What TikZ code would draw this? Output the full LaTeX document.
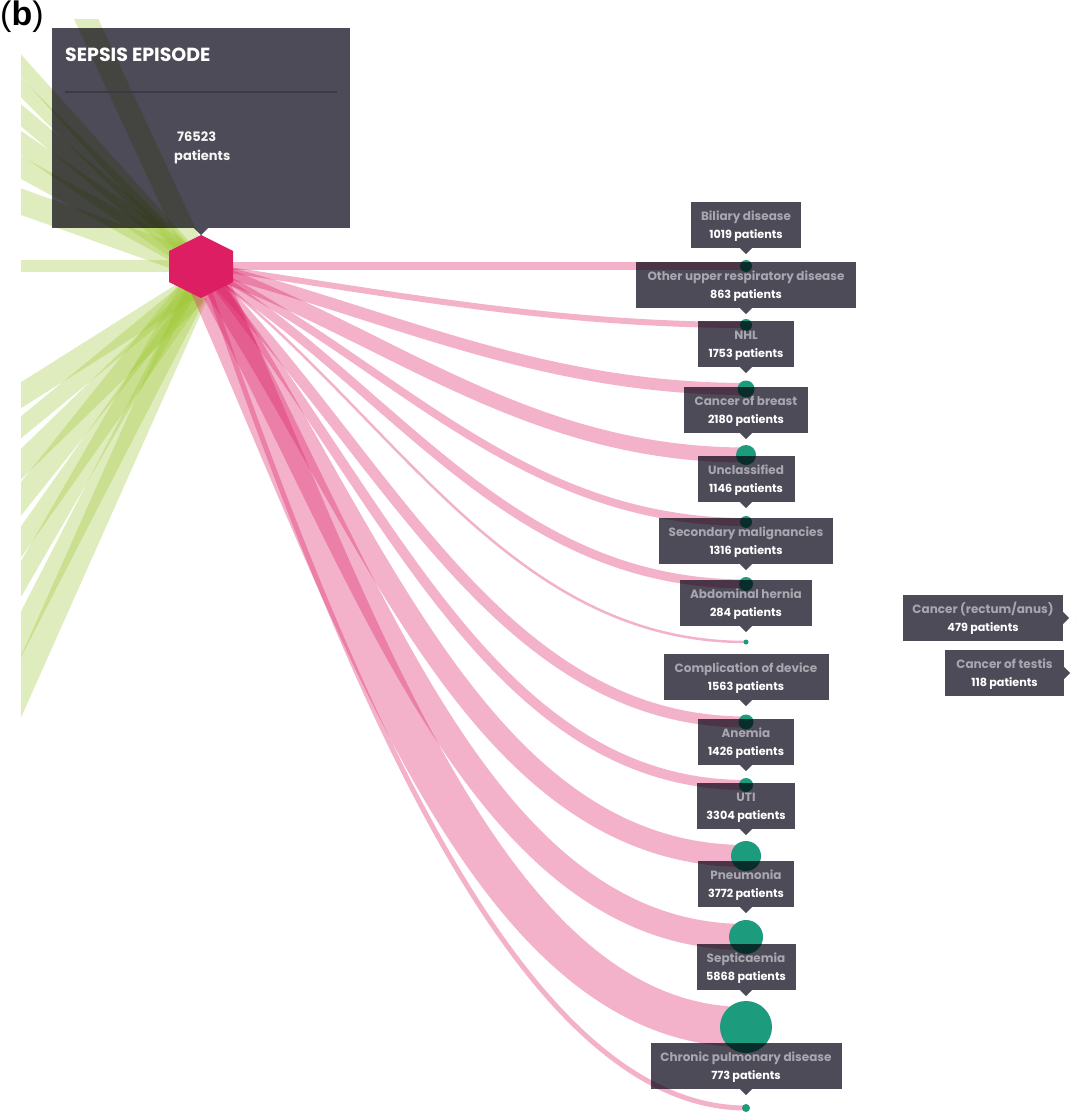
\documentclass[tikz,border=0pt]{standalone}
\usepackage{fontspec}
\setmainfont{Poppins}
\newfontfamily\arialf{Liberation Sans}
\usetikzlibrary{calc}
\definecolor{boxc}{RGB}{78,75,88}
\definecolor{linec}{RGB}{60,57,72}
\definecolor{namec}{RGB}{168,166,175}
\definecolor{pinkc}{RGB}{220,31,100}
\definecolor{greenc}{RGB}{160,200,55}
\definecolor{tealc}{RGB}{28,155,125}
\definecolor{hexc}{RGB}{221,30,98}

\newcommand{\lbox}[6]{%
  \begin{scope}[blend mode=multiply]
    \node[boxs, minimum width=#4] (b#1) at (#2,#3+23) {};
    \fill[boxc] ($(b#1.south)+(-6,0)$) -- ($(b#1.south)+(6,0)$) -- ($(b#1.south)+(0,6)$) -- cycle;
  \end{scope}
  \node[nmtext, anchor=base] (n#1) at ($(b#1.north)+(0,18.5)$) {#5};
  \node[cttext, anchor=base] (p#1) at ($(b#1.north)+(0,37)$) {#6};
}
\newcommand{\rbox}[6]{%
  \begin{scope}[blend mode=multiply]
    \node[boxs, minimum width=#4] (b#1) at (#2,#3+23) {};
    \fill[boxc] ($(b#1.east)+(0,-6)$) -- ($(b#1.east)+(6,0)$) -- ($(b#1.east)+(0,6)$) -- cycle;
  \end{scope}
  \node[nmtext, anchor=base] (n#1) at ($(b#1.north)+(0,18.5)$) {#5};
  \node[cttext, anchor=base] (p#1) at ($(b#1.north)+(0,37)$) {#6};
}
\newcommand{\pb}[5]{\draw[pband=#2] (hex) .. controls +(#3:#4) and +(-#5,0) .. (#1);}

\begin{document}
\begin{tikzpicture}[x=1pt,y=-1pt,
  gband/.style={draw=greenc, opacity=0.33, line width=#1},
  pband/.style={draw=pinkc, opacity=0.34, line width=#1},
  dot/.style={circle, fill=tealc, inner sep=0pt, minimum size=#1},
  boxs/.style={rectangle, fill=boxc, inner sep=0pt, minimum height=46},
  nmtext/.style={font=\fontsize{12}{14}\selectfont\bfseries, text=namec, inner sep=0pt},
  cttext/.style={font=\fontsize{11.2}{13}\selectfont\bfseries, text=white, inner sep=0pt},
]
\useasboundingbox (0,0) rectangle (1076,1113);
\fill[white] (0,0) rectangle (1076,1113);

\coordinate (hex) at (201,266);
\coordinate (gs1) at (188,290);
\coordinate (gs2) at (196,294);

% green bands (left side, clipped)
\begin{scope}
\clip (21,20) rectangle (1076,1113);
\coordinate (gu1) at (68,-20);
\coordinate (gu2) at (-20,20);
\coordinate (gu3) at (-20,47);
\coordinate (gu4) at (-20,81);
\coordinate (gu5) at (-20,115);
\coordinate (gu6) at (-20,145);
\coordinate (gu7) at (-20,187);
\coordinate (gu8) at (-20,266);
\draw[gband=22] (hex) -- (gu1);
\draw[gband=15] (hex) -- (gu2);
\draw[gband=14] (hex) -- (gu3);
\draw[gband=17] (hex) -- (gu4);
\draw[gband=20] (hex) -- (gu5);
\draw[gband=20] (hex) -- (gu6);
\draw[gband=25] (hex) -- (gu7);
\draw[gband=12] (hex) -- (gu8);
\coordinate (gl1) at (-20,421);
\coordinate (gl2) at (-20,461);
\coordinate (gl3) at (-20,504);
\coordinate (gl4) at (-20,550);
\coordinate (gl5) at (-20,600);
\coordinate (gl6) at (-20,650);
\coordinate (gl7) at (-20,714);
\coordinate (gl8) at (-20,779);
\draw[gband=22] (gs1) -- (gl1);
\draw[gband=17] (gs1) -- (gl2);
\draw[gband=22] (gs2) -- (gl3);
\draw[gband=21] (gs1) -- (gl4);
\draw[gband=18] (gs2) -- (gl5);
\draw[gband=18] (gs1) -- (gl6);
\draw[gband=21] (gs2) -- (gl7);
\draw[gband=25] (gs2) -- (gl8);
\end{scope}

% end points of pink bands
\coordinate (e1) at (746,266);
\coordinate (e2) at (746,325);
\coordinate (e3) at (746,389);
\coordinate (e4) at (746,455);
\coordinate (e5) at (746,522);
\coordinate (e6) at (746,584);
\coordinate (e7) at (746,642);
\coordinate (e8) at (746,722);
\coordinate (e9) at (746,785);
\coordinate (e10) at (746,856);
\coordinate (e11) at (746,937);
\coordinate (e12) at (746,1027);
\coordinate (e13) at (746,1108);

% pink bands
\draw[pband=8] (hex) -- (e1);
\pb{e2}{6}{8}{180}{200}
\pb{e3}{12}{14}{190}{210}
\pb{e4}{15}{20}{200}{220}
\pb{e5}{8}{26}{210}{230}
\pb{e6}{9}{32}{230}{240}
\pb{e7}{2.5}{37}{240}{240}
\pb{e8}{11}{45}{260}{250}
\pb{e9}{10}{50}{280}{260}
\pb{e10}{22}{56}{300}{270}
\pb{e11}{26}{61}{340}{270}
\pb{e12}{40}{66}{380}{260}
\pb{e13}{5}{71}{430}{230}

% hexagon
\fill[hexc] (201,235) -- (233,251) -- (233,282) -- (201,298) -- (169,282) -- (169,251) -- cycle;

% circles
\node[dot=12] (c1) at (e1) {};
\node[dot=12] (c2) at (e2) {};
\node[dot=17] (c3) at (e3) {};
\node[dot=20] (c4) at (e4) {};
\node[dot=12] (c5) at (e5) {};
\node[dot=14] (c6) at (e6) {};
\node[dot=5] (c7) at (e7) {};
\node[dot=15] (c8) at (e8) {};
\node[dot=14] (c9) at (e9) {};
\node[dot=30] (c10) at (e10) {};
\node[dot=34] (c11) at (e11) {};
\node[dot=52] (c12) at (e12) {};
\node[dot=8] (c13) at (e13) {};
\begin{scope}
\clip (0,0) rectangle (1076,1113);
\node[dot=8] (c14) at (1080,619) {};
\end{scope}

% sepsis box
\begin{scope}[blend mode=multiply]
\node[fill=boxc, inner sep=0pt, minimum width=298, minimum height=200] (sep) at (201,128) {};
\fill[boxc] ($(sep.south)+(-7,0)$) -- ($(sep.south)+(7,0)$) -- ($(sep.south)+(0,7)$) -- cycle;
\end{scope}
\draw[linec, line width=1.2] (65,92) -- (337,92);
\node[anchor=base west, inner sep=0pt, text=white, font=\fontsize{19}{22}\selectfont\bfseries] (title) at (65,62) {SEPSIS EPISODE};
\node[anchor=base west, inner sep=0pt, text=white!92!gray, font=\fontsize{13}{15}\selectfont\bfseries] (tot) at (177,142) {76523};
\node[anchor=base west, inner sep=0pt, text=white!92!gray, font=\fontsize{13}{15}\selectfont\bfseries] (totp) at (174,160) {patients};

% labels
\lbox{1}{746}{202}{110}{Biliary disease}{1019 patients}
\lbox{2}{746}{262}{220}{Other upper respiratory disease}{863 patients}
\lbox{3}{746}{321}{96}{NHL}{1753 patients}
\lbox{4}{746}{387}{124}{Cancer of breast}{2180 patients}
\lbox{5}{746}{456}{97}{Unclassified}{1146 patients}
\lbox{6}{746}{518}{174}{Secondary malignancies}{1316 patients}
\lbox{7}{746}{580}{132}{Abdominal hernia}{284 patients}
\lbox{8}{746}{654}{165}{Complication of device}{1563 patients}
\lbox{9}{746}{719}{96}{Anemia}{1426 patients}
\lbox{10}{746}{783}{98}{UTI}{3304 patients}
\lbox{11}{746}{861}{96}{Pneumonia}{3772 patients}
\lbox{12}{746}{944}{99}{Septicaemia}{5868 patients}
\lbox{13}{746}{1043}{191}{Chronic pulmonary disease}{773 patients}
\rbox{r1}{983}{595}{160}{Cancer (rectum/anus)}{479 patients}
\rbox{r2}{1004.5}{650}{119}{Cancer of testis}{118 patients}

\node[anchor=north west, inner sep=0pt, font=\arialf\fontsize{34}{36}\selectfont] (lab) at (0,1) {(\textbf{b})};
\end{tikzpicture}
\end{document}
